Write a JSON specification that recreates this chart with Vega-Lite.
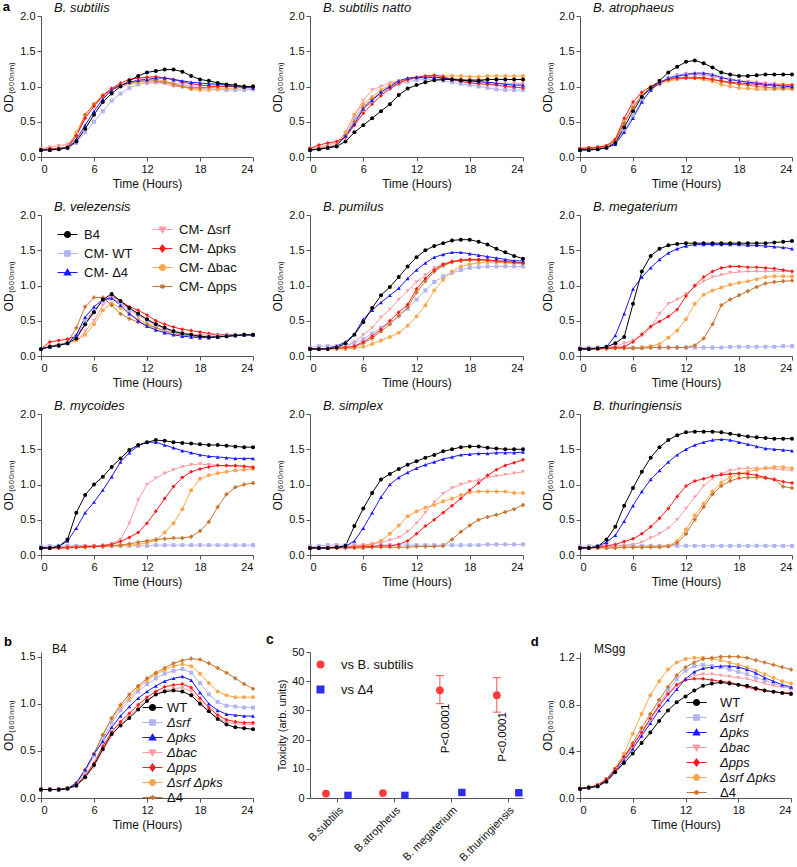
{
"$schema":"https://vega.github.io/schema/vega-lite/v6.json",
"padding":{"left":2,"top":1,"right":0,"bottom":0},
"title":{"text":"a","anchor":"start","frame":"bounds","fontWeight":"bold","fontStyle":"normal","fontSize":13,"dx":0,"offset":-12,"color":"#000000"},
"datasets":{
"g":[
{"p":"sub","t":0,"k0":0.10,"k1":0.10,"k2":0.10,"k3":0.12,"k4":0.10,"k5":0.10,"k6":0.10},
{"p":"sub","t":1,"k0":0.10,"k1":0.11,"k2":0.10,"k3":0.14,"k4":0.12,"k5":0.11,"k6":0.11},
{"p":"sub","t":2,"k0":0.11,"k1":0.12,"k2":0.11,"k3":0.16,"k4":0.12,"k5":0.12,"k6":0.12},
{"p":"sub","t":3,"k0":0.13,"k1":0.13,"k2":0.13,"k3":0.18,"k4":0.14,"k5":0.14,"k6":0.14},
{"p":"sub","t":4,"k0":0.22,"k1":0.20,"k2":0.25,"k3":0.30,"k4":0.30,"k5":0.35,"k6":0.30},
{"p":"sub","t":5,"k0":0.40,"k1":0.35,"k2":0.45,"k3":0.55,"k4":0.55,"k5":0.60,"k6":0.60},
{"p":"sub","t":6,"k0":0.60,"k1":0.50,"k2":0.65,"k3":0.72,"k4":0.72,"k5":0.75,"k6":0.75},
{"p":"sub","t":7,"k0":0.78,"k1":0.65,"k2":0.82,"k3":0.85,"k4":0.87,"k5":0.88,"k6":0.87},
{"p":"sub","t":8,"k0":0.90,"k1":0.80,"k2":0.95,"k3":0.95,"k4":0.97,"k5":0.97,"k6":0.96},
{"p":"sub","t":9,"k0":1.00,"k1":0.90,"k2":1.02,"k3":1.00,"k4":1.05,"k5":1.02,"k6":1.02},
{"p":"sub","t":10,"k0":1.08,"k1":0.98,"k2":1.06,"k3":1.03,"k4":1.10,"k5":1.05,"k6":1.05},
{"p":"sub","t":11,"k0":1.15,"k1":1.03,"k2":1.09,"k3":1.05,"k4":1.12,"k5":1.08,"k6":1.07},
{"p":"sub","t":12,"k0":1.20,"k1":1.05,"k2":1.10,"k3":1.05,"k4":1.13,"k5":1.10,"k6":1.08},
{"p":"sub","t":13,"k0":1.22,"k1":1.06,"k2":1.12,"k3":1.05,"k4":1.14,"k5":1.10,"k6":1.08},
{"p":"sub","t":14,"k0":1.24,"k1":1.06,"k2":1.12,"k3":1.04,"k4":1.12,"k5":1.08,"k6":1.06},
{"p":"sub","t":15,"k0":1.24,"k1":1.05,"k2":1.10,"k3":1.00,"k4":1.10,"k5":1.04,"k6":1.03},
{"p":"sub","t":16,"k0":1.21,"k1":1.03,"k2":1.08,"k3":1.00,"k4":1.06,"k5":1.00,"k6":1.00},
{"p":"sub","t":17,"k0":1.15,"k1":1.00,"k2":1.06,"k3":0.98,"k4":1.04,"k5":0.96,"k6":0.98},
{"p":"sub","t":18,"k0":1.10,"k1":0.98,"k2":1.05,"k3":0.98,"k4":1.02,"k5":0.95,"k6":0.98},
{"p":"sub","t":19,"k0":1.08,"k1":0.97,"k2":1.04,"k3":0.98,"k4":1.01,"k5":0.95,"k6":0.99},
{"p":"sub","t":20,"k0":1.05,"k1":0.96,"k2":1.03,"k3":1.00,"k4":1.00,"k5":0.96,"k6":1.00},
{"p":"sub","t":21,"k0":1.03,"k1":0.95,"k2":1.02,"k3":1.00,"k4":1.00,"k5":0.97,"k6":1.00},
{"p":"sub","t":22,"k0":1.02,"k1":0.95,"k2":1.00,"k3":1.00,"k4":1.00,"k5":0.98,"k6":1.00},
{"p":"sub","t":23,"k0":1.00,"k1":0.95,"k2":0.99,"k3":1.00,"k4":1.00,"k5":0.98,"k6":1.00},
{"p":"sub","t":24,"k0":1.00,"k1":0.96,"k2":0.98,"k3":1.00,"k4":1.00,"k5":0.98,"k6":1.00},
{"p":"nat","t":0,"k0":0.10,"k1":0.10,"k2":0.10,"k3":0.12,"k4":0.12,"k5":0.10,"k6":0.10},
{"p":"nat","t":1,"k0":0.11,"k1":0.11,"k2":0.11,"k3":0.14,"k4":0.17,"k5":0.12,"k6":0.12},
{"p":"nat","t":2,"k0":0.13,"k1":0.13,"k2":0.13,"k3":0.17,"k4":0.20,"k5":0.14,"k6":0.14},
{"p":"nat","t":3,"k0":0.15,"k1":0.16,"k2":0.16,"k3":0.20,"k4":0.22,"k5":0.17,"k6":0.17},
{"p":"nat","t":4,"k0":0.22,"k1":0.30,"k2":0.30,"k3":0.35,"k4":0.28,"k5":0.35,"k6":0.30},
{"p":"nat","t":5,"k0":0.35,"k1":0.55,"k2":0.47,"k3":0.60,"k4":0.45,"k5":0.60,"k6":0.50},
{"p":"nat","t":6,"k0":0.45,"k1":0.72,"k2":0.68,"k3":0.80,"k4":0.62,"k5":0.75,"k6":0.70},
{"p":"nat","t":7,"k0":0.55,"k1":0.82,"k2":0.80,"k3":0.95,"k4":0.75,"k5":0.85,"k6":0.82},
{"p":"nat","t":8,"k0":0.65,"k1":0.90,"k2":0.92,"k3":1.00,"k4":0.87,"k5":0.95,"k6":0.92},
{"p":"nat","t":9,"k0":0.75,"k1":0.97,"k2":1.00,"k3":1.05,"k4":0.97,"k5":1.02,"k6":1.00},
{"p":"nat","t":10,"k0":0.88,"k1":1.03,"k2":1.08,"k3":1.08,"k4":1.05,"k5":1.08,"k6":1.05},
{"p":"nat","t":11,"k0":0.97,"k1":1.07,"k2":1.12,"k3":1.10,"k4":1.10,"k5":1.10,"k6":1.10},
{"p":"nat","t":12,"k0":1.02,"k1":1.09,"k2":1.13,"k3":1.12,"k4":1.13,"k5":1.12,"k6":1.12},
{"p":"nat","t":13,"k0":1.06,"k1":1.10,"k2":1.13,"k3":1.13,"k4":1.15,"k5":1.14,"k6":1.13},
{"p":"nat","t":14,"k0":1.09,"k1":1.10,"k2":1.13,"k3":1.14,"k4":1.16,"k5":1.15,"k6":1.13},
{"p":"nat","t":15,"k0":1.10,"k1":1.08,"k2":1.12,"k3":1.12,"k4":1.14,"k5":1.15,"k6":1.12},
{"p":"nat","t":16,"k0":1.10,"k1":1.06,"k2":1.10,"k3":1.10,"k4":1.10,"k5":1.15,"k6":1.11},
{"p":"nat","t":17,"k0":1.09,"k1":1.04,"k2":1.09,"k3":1.08,"k4":1.07,"k5":1.15,"k6":1.10},
{"p":"nat","t":18,"k0":1.08,"k1":1.02,"k2":1.08,"k3":1.07,"k4":1.05,"k5":1.14,"k6":1.10},
{"p":"nat","t":19,"k0":1.08,"k1":1.00,"k2":1.07,"k3":1.06,"k4":1.04,"k5":1.14,"k6":1.10},
{"p":"nat","t":20,"k0":1.10,"k1":0.98,"k2":1.06,"k3":1.05,"k4":1.03,"k5":1.15,"k6":1.10},
{"p":"nat","t":21,"k0":1.10,"k1":0.96,"k2":1.05,"k3":1.04,"k4":1.02,"k5":1.15,"k6":1.10},
{"p":"nat","t":22,"k0":1.10,"k1":0.95,"k2":1.03,"k3":1.04,"k4":1.00,"k5":1.15,"k6":1.10},
{"p":"nat","t":23,"k0":1.10,"k1":0.95,"k2":1.02,"k3":1.04,"k4":0.99,"k5":1.15,"k6":1.10},
{"p":"nat","t":24,"k0":1.10,"k1":0.95,"k2":1.02,"k3":1.04,"k4":0.98,"k5":1.15,"k6":1.10},
{"p":"atr","t":0,"k0":0.10,"k1":0.10,"k2":0.10,"k3":0.12,"k4":0.12,"k5":0.11,"k6":0.11},
{"p":"atr","t":1,"k0":0.10,"k1":0.11,"k2":0.10,"k3":0.13,"k4":0.13,"k5":0.12,"k6":0.12},
{"p":"atr","t":2,"k0":0.11,"k1":0.12,"k2":0.11,"k3":0.14,"k4":0.14,"k5":0.14,"k6":0.13},
{"p":"atr","t":3,"k0":0.13,"k1":0.14,"k2":0.13,"k3":0.16,"k4":0.16,"k5":0.16,"k6":0.15},
{"p":"atr","t":4,"k0":0.20,"k1":0.20,"k2":0.18,"k3":0.25,"k4":0.25,"k5":0.25,"k6":0.22},
{"p":"atr","t":5,"k0":0.42,"k1":0.38,"k2":0.35,"k3":0.50,"k4":0.55,"k5":0.50,"k6":0.48},
{"p":"atr","t":6,"k0":0.65,"k1":0.58,"k2":0.55,"k3":0.72,"k4":0.78,"k5":0.70,"k6":0.70},
{"p":"atr","t":7,"k0":0.85,"k1":0.80,"k2":0.78,"k3":0.88,"k4":0.92,"k5":0.87,"k6":0.87},
{"p":"atr","t":8,"k0":0.98,"k1":0.95,"k2":0.95,"k3":0.98,"k4":1.00,"k5":0.97,"k6":0.98},
{"p":"atr","t":9,"k0":1.08,"k1":1.05,"k2":1.05,"k3":1.05,"k4":1.06,"k5":1.03,"k6":1.05},
{"p":"atr","t":10,"k0":1.20,"k1":1.12,"k2":1.12,"k3":1.10,"k4":1.10,"k5":1.08,"k6":1.10},
{"p":"atr","t":11,"k0":1.28,"k1":1.16,"k2":1.15,"k3":1.14,"k4":1.12,"k5":1.10,"k6":1.12},
{"p":"atr","t":12,"k0":1.35,"k1":1.18,"k2":1.17,"k3":1.16,"k4":1.12,"k5":1.12,"k6":1.13},
{"p":"atr","t":13,"k0":1.37,"k1":1.18,"k2":1.19,"k3":1.17,"k4":1.12,"k5":1.12,"k6":1.13},
{"p":"atr","t":14,"k0":1.33,"k1":1.17,"k2":1.19,"k3":1.16,"k4":1.12,"k5":1.10,"k6":1.12},
{"p":"atr","t":15,"k0":1.27,"k1":1.15,"k2":1.17,"k3":1.14,"k4":1.10,"k5":1.07,"k6":1.10},
{"p":"atr","t":16,"k0":1.20,"k1":1.12,"k2":1.13,"k3":1.12,"k4":1.08,"k5":1.03,"k6":1.07},
{"p":"atr","t":17,"k0":1.17,"k1":1.10,"k2":1.10,"k3":1.10,"k4":1.06,"k5":1.00,"k6":1.05},
{"p":"atr","t":18,"k0":1.15,"k1":1.08,"k2":1.08,"k3":1.08,"k4":1.05,"k5":0.98,"k6":1.03},
{"p":"atr","t":19,"k0":1.15,"k1":1.06,"k2":1.06,"k3":1.07,"k4":1.04,"k5":0.97,"k6":1.02},
{"p":"atr","t":20,"k0":1.16,"k1":1.04,"k2":1.05,"k3":1.06,"k4":1.03,"k5":0.96,"k6":1.00},
{"p":"atr","t":21,"k0":1.17,"k1":1.03,"k2":1.03,"k3":1.05,"k4":1.02,"k5":0.96,"k6":0.99},
{"p":"atr","t":22,"k0":1.17,"k1":1.02,"k2":1.02,"k3":1.04,"k4":1.02,"k5":0.96,"k6":0.98},
{"p":"atr","t":23,"k0":1.17,"k1":1.01,"k2":1.00,"k3":1.03,"k4":1.02,"k5":0.96,"k6":0.98},
{"p":"atr","t":24,"k0":1.17,"k1":1.00,"k2":1.00,"k3":1.02,"k4":1.02,"k5":0.96,"k6":0.98},
{"p":"vel","t":0,"k0":0.10,"k1":0.10,"k2":0.10,"k3":0.10,"k4":0.10,"k5":0.10,"k6":0.10},
{"p":"vel","t":1,"k0":0.13,"k1":0.13,"k2":0.13,"k3":0.14,"k4":0.20,"k5":0.14,"k6":0.14},
{"p":"vel","t":2,"k0":0.15,"k1":0.15,"k2":0.15,"k3":0.16,"k4":0.22,"k5":0.16,"k6":0.16},
{"p":"vel","t":3,"k0":0.18,"k1":0.18,"k2":0.18,"k3":0.19,"k4":0.24,"k5":0.18,"k6":0.19},
{"p":"vel","t":4,"k0":0.25,"k1":0.28,"k2":0.30,"k3":0.22,"k4":0.28,"k5":0.22,"k6":0.40},
{"p":"vel","t":5,"k0":0.45,"k1":0.50,"k2":0.55,"k3":0.35,"k4":0.45,"k5":0.30,"k6":0.70},
{"p":"vel","t":6,"k0":0.62,"k1":0.65,"k2":0.70,"k3":0.50,"k4":0.65,"k5":0.45,"k6":0.83},
{"p":"vel","t":7,"k0":0.80,"k1":0.78,"k2":0.80,"k3":0.72,"k4":0.78,"k5":0.65,"k6":0.83},
{"p":"vel","t":8,"k0":0.88,"k1":0.82,"k2":0.82,"k3":0.82,"k4":0.85,"k5":0.75,"k6":0.72},
{"p":"vel","t":9,"k0":0.78,"k1":0.75,"k2":0.72,"k3":0.76,"k4":0.78,"k5":0.68,"k6":0.60},
{"p":"vel","t":10,"k0":0.68,"k1":0.65,"k2":0.60,"k3":0.68,"k4":0.70,"k5":0.60,"k6":0.53},
{"p":"vel","t":11,"k0":0.60,"k1":0.58,"k2":0.50,"k3":0.60,"k4":0.65,"k5":0.52,"k6":0.48},
{"p":"vel","t":12,"k0":0.52,"k1":0.50,"k2":0.42,"k3":0.52,"k4":0.58,"k5":0.46,"k6":0.44},
{"p":"vel","t":13,"k0":0.45,"k1":0.44,"k2":0.37,"k3":0.46,"k4":0.50,"k5":0.40,"k6":0.40},
{"p":"vel","t":14,"k0":0.40,"k1":0.38,"k2":0.33,"k3":0.40,"k4":0.45,"k5":0.35,"k6":0.36},
{"p":"vel","t":15,"k0":0.35,"k1":0.34,"k2":0.30,"k3":0.36,"k4":0.41,"k5":0.32,"k6":0.32},
{"p":"vel","t":16,"k0":0.32,"k1":0.31,"k2":0.28,"k3":0.33,"k4":0.38,"k5":0.30,"k6":0.30},
{"p":"vel","t":17,"k0":0.30,"k1":0.29,"k2":0.27,"k3":0.31,"k4":0.36,"k5":0.29,"k6":0.28},
{"p":"vel","t":18,"k0":0.28,"k1":0.28,"k2":0.26,"k3":0.30,"k4":0.34,"k5":0.28,"k6":0.27},
{"p":"vel","t":19,"k0":0.27,"k1":0.28,"k2":0.26,"k3":0.30,"k4":0.32,"k5":0.28,"k6":0.27},
{"p":"vel","t":20,"k0":0.27,"k1":0.28,"k2":0.27,"k3":0.30,"k4":0.30,"k5":0.28,"k6":0.27},
{"p":"vel","t":21,"k0":0.28,"k1":0.29,"k2":0.28,"k3":0.30,"k4":0.30,"k5":0.29,"k6":0.28},
{"p":"vel","t":22,"k0":0.29,"k1":0.30,"k2":0.29,"k3":0.30,"k4":0.30,"k5":0.30,"k6":0.29},
{"p":"vel","t":23,"k0":0.30,"k1":0.30,"k2":0.30,"k3":0.30,"k4":0.30,"k5":0.30,"k6":0.30},
{"p":"vel","t":24,"k0":0.30,"k1":0.30,"k2":0.30,"k3":0.30,"k4":0.30,"k5":0.30,"k6":0.30},
{"p":"pum","t":0,"k0":0.10,"k1":0.12,"k2":0.10,"k3":0.10,"k4":0.10,"k5":0.10,"k6":0.10},
{"p":"pum","t":1,"k0":0.10,"k1":0.14,"k2":0.10,"k3":0.10,"k4":0.10,"k5":0.10,"k6":0.10},
{"p":"pum","t":2,"k0":0.10,"k1":0.14,"k2":0.11,"k3":0.11,"k4":0.10,"k5":0.10,"k6":0.10},
{"p":"pum","t":3,"k0":0.12,"k1":0.14,"k2":0.14,"k3":0.12,"k4":0.11,"k5":0.10,"k6":0.11},
{"p":"pum","t":4,"k0":0.18,"k1":0.15,"k2":0.20,"k3":0.14,"k4":0.12,"k5":0.10,"k6":0.12},
{"p":"pum","t":5,"k0":0.30,"k1":0.18,"k2":0.31,"k3":0.20,"k4":0.14,"k5":0.11,"k6":0.13},
{"p":"pum","t":6,"k0":0.48,"k1":0.24,"k2":0.52,"k3":0.30,"k4":0.20,"k5":0.13,"k6":0.18},
{"p":"pum","t":7,"k0":0.68,"k1":0.32,"k2":0.65,"k3":0.40,"k4":0.28,"k5":0.17,"k6":0.25},
{"p":"pum","t":8,"k0":0.86,"k1":0.40,"k2":0.76,"k3":0.55,"k4":0.38,"k5":0.22,"k6":0.35},
{"p":"pum","t":9,"k0":0.98,"k1":0.47,"k2":0.86,"k3":0.66,"k4":0.50,"k5":0.27,"k6":0.45},
{"p":"pum","t":10,"k0":1.12,"k1":0.57,"k2":0.96,"k3":0.80,"k4":0.62,"k5":0.33,"k6":0.57},
{"p":"pum","t":11,"k0":1.27,"k1":0.67,"k2":1.10,"k3":0.92,"k4":0.73,"k5":0.43,"k6":0.69},
{"p":"pum","t":12,"k0":1.40,"k1":0.80,"k2":1.22,"k3":1.05,"k4":0.95,"k5":0.56,"k6":0.90},
{"p":"pum","t":13,"k0":1.50,"k1":0.93,"k2":1.32,"k3":1.15,"k4":1.10,"k5":0.72,"k6":1.06},
{"p":"pum","t":14,"k0":1.56,"k1":1.05,"k2":1.40,"k3":1.25,"k4":1.22,"k5":0.93,"k6":1.20},
{"p":"pum","t":15,"k0":1.60,"k1":1.13,"k2":1.44,"k3":1.30,"k4":1.30,"k5":1.08,"k6":1.28},
{"p":"pum","t":16,"k0":1.64,"k1":1.18,"k2":1.47,"k3":1.34,"k4":1.34,"k5":1.20,"k6":1.33},
{"p":"pum","t":17,"k0":1.65,"k1":1.22,"k2":1.47,"k3":1.36,"k4":1.36,"k5":1.27,"k6":1.35},
{"p":"pum","t":18,"k0":1.65,"k1":1.25,"k2":1.45,"k3":1.37,"k4":1.37,"k5":1.30,"k6":1.36},
{"p":"pum","t":19,"k0":1.62,"k1":1.26,"k2":1.43,"k3":1.36,"k4":1.37,"k5":1.32,"k6":1.36},
{"p":"pum","t":20,"k0":1.58,"k1":1.27,"k2":1.41,"k3":1.35,"k4":1.36,"k5":1.33,"k6":1.36},
{"p":"pum","t":21,"k0":1.52,"k1":1.27,"k2":1.39,"k3":1.34,"k4":1.35,"k5":1.33,"k6":1.35},
{"p":"pum","t":22,"k0":1.47,"k1":1.27,"k2":1.37,"k3":1.33,"k4":1.34,"k5":1.32,"k6":1.34},
{"p":"pum","t":23,"k0":1.42,"k1":1.27,"k2":1.35,"k3":1.32,"k4":1.33,"k5":1.32,"k6":1.33},
{"p":"pum","t":24,"k0":1.38,"k1":1.27,"k2":1.35,"k3":1.30,"k4":1.32,"k5":1.32,"k6":1.32},
{"p":"meg","t":0,"k0":0.10,"k1":0.12,"k2":0.10,"k3":0.10,"k4":0.10,"k5":0.10,"k6":0.10},
{"p":"meg","t":1,"k0":0.10,"k1":0.12,"k2":0.10,"k3":0.10,"k4":0.10,"k5":0.10,"k6":0.10},
{"p":"meg","t":2,"k0":0.11,"k1":0.12,"k2":0.11,"k3":0.11,"k4":0.10,"k5":0.10,"k6":0.10},
{"p":"meg","t":3,"k0":0.13,"k1":0.12,"k2":0.13,"k3":0.12,"k4":0.11,"k5":0.10,"k6":0.11},
{"p":"meg","t":4,"k0":0.18,"k1":0.12,"k2":0.29,"k3":0.14,"k4":0.12,"k5":0.11,"k6":0.11},
{"p":"meg","t":5,"k0":0.27,"k1":0.12,"k2":0.60,"k3":0.18,"k4":0.13,"k5":0.11,"k6":0.11},
{"p":"meg","t":6,"k0":0.74,"k1":0.12,"k2":0.95,"k3":0.22,"k4":0.20,"k5":0.11,"k6":0.11},
{"p":"meg","t":7,"k0":1.20,"k1":0.12,"k2":1.12,"k3":0.28,"k4":0.31,"k5":0.12,"k6":0.11},
{"p":"meg","t":8,"k0":1.42,"k1":0.12,"k2":1.25,"k3":0.40,"k4":0.42,"k5":0.14,"k6":0.12},
{"p":"meg","t":9,"k0":1.52,"k1":0.12,"k2":1.37,"k3":0.60,"k4":0.49,"k5":0.17,"k6":0.12},
{"p":"meg","t":10,"k0":1.57,"k1":0.12,"k2":1.46,"k3":0.74,"k4":0.56,"k5":0.26,"k6":0.12},
{"p":"meg","t":11,"k0":1.59,"k1":0.12,"k2":1.52,"k3":0.80,"k4":0.66,"k5":0.36,"k6":0.12},
{"p":"meg","t":12,"k0":1.60,"k1":0.12,"k2":1.56,"k3":0.88,"k4":0.85,"k5":0.52,"k6":0.12},
{"p":"meg","t":13,"k0":1.60,"k1":0.12,"k2":1.58,"k3":0.98,"k4":1.00,"k5":0.74,"k6":0.15},
{"p":"meg","t":14,"k0":1.60,"k1":0.12,"k2":1.58,"k3":1.06,"k4":1.12,"k5":0.87,"k6":0.25},
{"p":"meg","t":15,"k0":1.60,"k1":0.12,"k2":1.58,"k3":1.12,"k4":1.20,"k5":0.93,"k6":0.45},
{"p":"meg","t":16,"k0":1.60,"k1":0.12,"k2":1.58,"k3":1.15,"k4":1.25,"k5":0.97,"k6":0.72},
{"p":"meg","t":17,"k0":1.60,"k1":0.13,"k2":1.58,"k3":1.18,"k4":1.27,"k5":1.01,"k6":0.80},
{"p":"meg","t":18,"k0":1.60,"k1":0.13,"k2":1.58,"k3":1.19,"k4":1.27,"k5":1.04,"k6":0.86},
{"p":"meg","t":19,"k0":1.60,"k1":0.13,"k2":1.57,"k3":1.20,"k4":1.26,"k5":1.06,"k6":0.92},
{"p":"meg","t":20,"k0":1.60,"k1":0.13,"k2":1.57,"k3":1.20,"k4":1.26,"k5":1.09,"k6":0.98},
{"p":"meg","t":21,"k0":1.60,"k1":0.13,"k2":1.56,"k3":1.20,"k4":1.25,"k5":1.12,"k6":1.03},
{"p":"meg","t":22,"k0":1.61,"k1":0.13,"k2":1.55,"k3":1.20,"k4":1.24,"k5":1.13,"k6":1.05},
{"p":"meg","t":23,"k0":1.62,"k1":0.14,"k2":1.54,"k3":1.20,"k4":1.22,"k5":1.13,"k6":1.06},
{"p":"meg","t":24,"k0":1.63,"k1":0.14,"k2":1.52,"k3":1.20,"k4":1.20,"k5":1.13,"k6":1.07},
{"p":"myc","t":0,"k0":0.10,"k1":0.12,"k2":0.10,"k3":0.10,"k4":0.10,"k5":0.10,"k6":0.10},
{"p":"myc","t":1,"k0":0.10,"k1":0.13,"k2":0.10,"k3":0.10,"k4":0.10,"k5":0.10,"k6":0.10},
{"p":"myc","t":2,"k0":0.12,"k1":0.13,"k2":0.12,"k3":0.11,"k4":0.10,"k5":0.10,"k6":0.10},
{"p":"myc","t":3,"k0":0.22,"k1":0.13,"k2":0.20,"k3":0.12,"k4":0.11,"k5":0.10,"k6":0.10},
{"p":"myc","t":4,"k0":0.60,"k1":0.13,"k2":0.38,"k3":0.12,"k4":0.11,"k5":0.11,"k6":0.11},
{"p":"myc","t":5,"k0":0.85,"k1":0.13,"k2":0.60,"k3":0.13,"k4":0.12,"k5":0.11,"k6":0.11},
{"p":"myc","t":6,"k0":1.00,"k1":0.13,"k2":0.75,"k3":0.13,"k4":0.12,"k5":0.12,"k6":0.12},
{"p":"myc","t":7,"k0":1.11,"k1":0.13,"k2":0.92,"k3":0.14,"k4":0.13,"k5":0.12,"k6":0.12},
{"p":"myc","t":8,"k0":1.25,"k1":0.13,"k2":1.11,"k3":0.16,"k4":0.15,"k5":0.13,"k6":0.13},
{"p":"myc","t":9,"k0":1.37,"k1":0.13,"k2":1.32,"k3":0.22,"k4":0.19,"k5":0.13,"k6":0.14},
{"p":"myc","t":10,"k0":1.49,"k1":0.13,"k2":1.45,"k3":0.45,"k4":0.25,"k5":0.14,"k6":0.16},
{"p":"myc","t":11,"k0":1.56,"k1":0.13,"k2":1.55,"k3":0.78,"k4":0.32,"k5":0.15,"k6":0.18},
{"p":"myc","t":12,"k0":1.60,"k1":0.13,"k2":1.60,"k3":1.00,"k4":0.45,"k5":0.17,"k6":0.20},
{"p":"myc","t":13,"k0":1.63,"k1":0.14,"k2":1.60,"k3":1.09,"k4":0.62,"k5":0.21,"k6":0.22},
{"p":"myc","t":14,"k0":1.62,"k1":0.14,"k2":1.56,"k3":1.16,"k4":0.80,"k5":0.32,"k6":0.23},
{"p":"myc","t":15,"k0":1.60,"k1":0.14,"k2":1.52,"k3":1.21,"k4":0.97,"k5":0.45,"k6":0.24},
{"p":"myc","t":16,"k0":1.59,"k1":0.14,"k2":1.48,"k3":1.25,"k4":1.10,"k5":0.65,"k6":0.24},
{"p":"myc","t":17,"k0":1.58,"k1":0.14,"k2":1.45,"k3":1.28,"k4":1.18,"k5":0.92,"k6":0.26},
{"p":"myc","t":18,"k0":1.57,"k1":0.14,"k2":1.42,"k3":1.29,"k4":1.22,"k5":1.08,"k6":0.34},
{"p":"myc","t":19,"k0":1.56,"k1":0.14,"k2":1.40,"k3":1.28,"k4":1.25,"k5":1.13,"k6":0.47},
{"p":"myc","t":20,"k0":1.56,"k1":0.14,"k2":1.39,"k3":1.27,"k4":1.27,"k5":1.16,"k6":0.68},
{"p":"myc","t":21,"k0":1.55,"k1":0.14,"k2":1.38,"k3":1.26,"k4":1.27,"k5":1.18,"k6":0.86},
{"p":"myc","t":22,"k0":1.54,"k1":0.14,"k2":1.37,"k3":1.25,"k4":1.27,"k5":1.20,"k6":0.96},
{"p":"myc","t":23,"k0":1.53,"k1":0.14,"k2":1.37,"k3":1.25,"k4":1.26,"k5":1.21,"k6":1.00},
{"p":"myc","t":24,"k0":1.53,"k1":0.14,"k2":1.37,"k3":1.25,"k4":1.24,"k5":1.22,"k6":1.02},
{"p":"sim","t":0,"k0":0.10,"k1":0.12,"k2":0.10,"k3":0.10,"k4":0.10,"k5":0.10,"k6":0.10},
{"p":"sim","t":1,"k0":0.10,"k1":0.13,"k2":0.10,"k3":0.10,"k4":0.10,"k5":0.10,"k6":0.10},
{"p":"sim","t":2,"k0":0.10,"k1":0.14,"k2":0.10,"k3":0.11,"k4":0.10,"k5":0.10,"k6":0.10},
{"p":"sim","t":3,"k0":0.11,"k1":0.14,"k2":0.11,"k3":0.12,"k4":0.10,"k5":0.11,"k6":0.10},
{"p":"sim","t":4,"k0":0.13,"k1":0.14,"k2":0.12,"k3":0.12,"k4":0.11,"k5":0.11,"k6":0.10},
{"p":"sim","t":5,"k0":0.41,"k1":0.14,"k2":0.20,"k3":0.13,"k4":0.11,"k5":0.12,"k6":0.10},
{"p":"sim","t":6,"k0":0.66,"k1":0.14,"k2":0.38,"k3":0.14,"k4":0.12,"k5":0.13,"k6":0.10},
{"p":"sim","t":7,"k0":0.88,"k1":0.14,"k2":0.60,"k3":0.16,"k4":0.12,"k5":0.15,"k6":0.11},
{"p":"sim","t":8,"k0":1.07,"k1":0.14,"k2":0.82,"k3":0.18,"k4":0.13,"k5":0.20,"k6":0.11},
{"p":"sim","t":9,"k0":1.15,"k1":0.14,"k2":1.00,"k3":0.21,"k4":0.13,"k5":0.30,"k6":0.11},
{"p":"sim","t":10,"k0":1.22,"k1":0.14,"k2":1.10,"k3":0.25,"k4":0.15,"k5":0.42,"k6":0.11},
{"p":"sim","t":11,"k0":1.28,"k1":0.14,"k2":1.17,"k3":0.33,"k4":0.20,"k5":0.55,"k6":0.11},
{"p":"sim","t":12,"k0":1.33,"k1":0.14,"k2":1.23,"k3":0.45,"k4":0.30,"k5":0.62,"k6":0.12},
{"p":"sim","t":13,"k0":1.38,"k1":0.14,"k2":1.28,"k3":0.60,"k4":0.41,"k5":0.67,"k6":0.12},
{"p":"sim","t":14,"k0":1.42,"k1":0.14,"k2":1.32,"k3":0.75,"k4":0.50,"k5":0.71,"k6":0.12},
{"p":"sim","t":15,"k0":1.47,"k1":0.14,"k2":1.36,"k3":0.87,"k4":0.60,"k5":0.76,"k6":0.13},
{"p":"sim","t":16,"k0":1.50,"k1":0.14,"k2":1.39,"k3":0.95,"k4":0.70,"k5":0.80,"k6":0.22},
{"p":"sim","t":17,"k0":1.53,"k1":0.14,"k2":1.42,"k3":1.00,"k4":0.80,"k5":0.85,"k6":0.33},
{"p":"sim","t":18,"k0":1.54,"k1":0.14,"k2":1.43,"k3":1.04,"k4":0.92,"k5":0.89,"k6":0.42},
{"p":"sim","t":19,"k0":1.54,"k1":0.14,"k2":1.44,"k3":1.06,"k4":1.02,"k5":0.90,"k6":0.50},
{"p":"sim","t":20,"k0":1.52,"k1":0.15,"k2":1.44,"k3":1.10,"k4":1.13,"k5":0.90,"k6":0.54},
{"p":"sim","t":21,"k0":1.51,"k1":0.15,"k2":1.45,"k3":1.12,"k4":1.21,"k5":0.90,"k6":0.57},
{"p":"sim","t":22,"k0":1.50,"k1":0.15,"k2":1.45,"k3":1.14,"k4":1.27,"k5":0.90,"k6":0.61},
{"p":"sim","t":23,"k0":1.50,"k1":0.15,"k2":1.45,"k3":1.16,"k4":1.31,"k5":0.88,"k6":0.65},
{"p":"sim","t":24,"k0":1.50,"k1":0.15,"k2":1.46,"k3":1.18,"k4":1.35,"k5":0.88,"k6":0.71},
{"p":"thu","t":0,"k0":0.10,"k1":0.12,"k2":0.10,"k3":0.10,"k4":0.10,"k5":0.10,"k6":0.10},
{"p":"thu","t":1,"k0":0.10,"k1":0.13,"k2":0.10,"k3":0.10,"k4":0.10,"k5":0.10,"k6":0.10},
{"p":"thu","t":2,"k0":0.12,"k1":0.13,"k2":0.12,"k3":0.11,"k4":0.11,"k5":0.10,"k6":0.10},
{"p":"thu","t":3,"k0":0.22,"k1":0.13,"k2":0.18,"k3":0.12,"k4":0.13,"k5":0.10,"k6":0.10},
{"p":"thu","t":4,"k0":0.40,"k1":0.13,"k2":0.28,"k3":0.13,"k4":0.15,"k5":0.11,"k6":0.10},
{"p":"thu","t":5,"k0":0.70,"k1":0.13,"k2":0.48,"k3":0.14,"k4":0.19,"k5":0.11,"k6":0.11},
{"p":"thu","t":6,"k0":0.95,"k1":0.13,"k2":0.70,"k3":0.15,"k4":0.23,"k5":0.11,"k6":0.11},
{"p":"thu","t":7,"k0":1.18,"k1":0.13,"k2":0.90,"k3":0.18,"k4":0.30,"k5":0.11,"k6":0.11},
{"p":"thu","t":8,"k0":1.38,"k1":0.13,"k2":1.07,"k3":0.24,"k4":0.40,"k5":0.12,"k6":0.11},
{"p":"thu","t":9,"k0":1.53,"k1":0.13,"k2":1.20,"k3":0.30,"k4":0.52,"k5":0.12,"k6":0.11},
{"p":"thu","t":10,"k0":1.63,"k1":0.13,"k2":1.32,"k3":0.38,"k4":0.66,"k5":0.13,"k6":0.12},
{"p":"thu","t":11,"k0":1.70,"k1":0.13,"k2":1.42,"k3":0.50,"k4":0.83,"k5":0.20,"k6":0.17},
{"p":"thu","t":12,"k0":1.74,"k1":0.13,"k2":1.50,"k3":0.66,"k4":0.98,"k5":0.36,"k6":0.30},
{"p":"thu","t":13,"k0":1.75,"k1":0.13,"k2":1.56,"k3":0.82,"k4":1.05,"k5":0.56,"k6":0.50},
{"p":"thu","t":14,"k0":1.75,"k1":0.13,"k2":1.60,"k3":0.98,"k4":1.08,"k5":0.73,"k6":0.68},
{"p":"thu","t":15,"k0":1.75,"k1":0.13,"k2":1.63,"k3":1.08,"k4":1.12,"k5":0.90,"k6":0.86},
{"p":"thu","t":16,"k0":1.74,"k1":0.13,"k2":1.64,"k3":1.15,"k4":1.14,"k5":1.03,"k6":0.98},
{"p":"thu","t":17,"k0":1.72,"k1":0.13,"k2":1.63,"k3":1.20,"k4":1.15,"k5":1.10,"k6":1.05},
{"p":"thu","t":18,"k0":1.70,"k1":0.13,"k2":1.60,"k3":1.22,"k4":1.16,"k5":1.15,"k6":1.09},
{"p":"thu","t":19,"k0":1.68,"k1":0.13,"k2":1.57,"k3":1.23,"k4":1.15,"k5":1.18,"k6":1.10},
{"p":"thu","t":20,"k0":1.67,"k1":0.13,"k2":1.54,"k3":1.23,"k4":1.13,"k5":1.21,"k6":1.10},
{"p":"thu","t":21,"k0":1.66,"k1":0.13,"k2":1.51,"k3":1.23,"k4":1.10,"k5":1.23,"k6":1.09},
{"p":"thu","t":22,"k0":1.65,"k1":0.13,"k2":1.50,"k3":1.22,"k4":1.07,"k5":1.25,"k6":1.07},
{"p":"thu","t":23,"k0":1.65,"k1":0.13,"k2":1.49,"k3":1.21,"k4":1.04,"k5":1.25,"k6":0.97},
{"p":"thu","t":24,"k0":1.65,"k1":0.13,"k2":1.48,"k3":1.20,"k4":1.02,"k5":1.23,"k6":0.95},
{"p":"b4","t":0,"k0":0.09,"k1":0.09,"k2":0.09,"k3":0.09,"k4":0.09,"k5":0.09,"k6":0.09},
{"p":"b4","t":1,"k0":0.09,"k1":0.09,"k2":0.09,"k3":0.09,"k4":0.09,"k5":0.09,"k6":0.09},
{"p":"b4","t":2,"k0":0.09,"k1":0.09,"k2":0.09,"k3":0.09,"k4":0.09,"k5":0.09,"k6":0.09},
{"p":"b4","t":3,"k0":0.10,"k1":0.10,"k2":0.10,"k3":0.10,"k4":0.10,"k5":0.10,"k6":0.10},
{"p":"b4","t":4,"k0":0.13,"k1":0.15,"k2":0.16,"k3":0.13,"k4":0.14,"k5":0.16,"k6":0.16},
{"p":"b4","t":5,"k0":0.22,"k1":0.28,"k2":0.30,"k3":0.22,"k4":0.24,"k5":0.30,"k6":0.30},
{"p":"b4","t":6,"k0":0.35,"k1":0.45,"k2":0.47,"k3":0.33,"k4":0.37,"k5":0.47,"k6":0.47},
{"p":"b4","t":7,"k0":0.52,"k1":0.62,"k2":0.60,"k3":0.50,"k4":0.55,"k5":0.67,"k6":0.67},
{"p":"b4","t":8,"k0":0.68,"k1":0.80,"k2":0.75,"k3":0.66,"k4":0.70,"k5":0.84,"k6":0.85},
{"p":"b4","t":9,"k0":0.77,"k1":0.93,"k2":0.87,"k3":0.78,"k4":0.81,"k5":0.97,"k6":0.99},
{"p":"b4","t":10,"k0":0.85,"k1":1.04,"k2":0.97,"k3":0.87,"k4":0.90,"k5":1.06,"k6":1.10},
{"p":"b4","t":11,"k0":0.94,"k1":1.13,"k2":1.06,"k3":0.96,"k4":0.99,"k5":1.16,"k6":1.19},
{"p":"b4","t":12,"k0":1.03,"k1":1.21,"k2":1.13,"k3":1.04,"k4":1.07,"k5":1.25,"k6":1.27},
{"p":"b4","t":13,"k0":1.10,"k1":1.27,"k2":1.19,"k3":1.10,"k4":1.13,"k5":1.31,"k6":1.33},
{"p":"b4","t":14,"k0":1.13,"k1":1.32,"k2":1.24,"k3":1.14,"k4":1.18,"k5":1.36,"k6":1.38},
{"p":"b4","t":15,"k0":1.14,"k1":1.35,"k2":1.27,"k3":1.16,"k4":1.20,"k5":1.40,"k6":1.43},
{"p":"b4","t":16,"k0":1.13,"k1":1.37,"k2":1.29,"k3":1.17,"k4":1.21,"k5":1.42,"k6":1.46},
{"p":"b4","t":17,"k0":1.09,"k1":1.33,"k2":1.25,"k3":1.13,"k4":1.17,"k5":1.40,"k6":1.48},
{"p":"b4","t":18,"k0":1.00,"k1":1.22,"k2":1.12,"k3":1.02,"k4":1.06,"k5":1.32,"k6":1.47},
{"p":"b4","t":19,"k0":0.92,"k1":1.10,"k2":1.00,"k3":0.92,"k4":0.96,"k5":1.22,"k6":1.43},
{"p":"b4","t":20,"k0":0.84,"k1":1.02,"k2":0.93,"k3":0.85,"k4":0.88,"k5":1.13,"k6":1.38},
{"p":"b4","t":21,"k0":0.78,"k1":0.98,"k2":0.89,"k3":0.80,"k4":0.83,"k5":1.09,"k6":1.33},
{"p":"b4","t":22,"k0":0.75,"k1":0.97,"k2":0.88,"k3":0.79,"k4":0.81,"k5":1.07,"k6":1.27},
{"p":"b4","t":23,"k0":0.74,"k1":0.96,"k2":0.87,"k3":0.78,"k4":0.80,"k5":1.07,"k6":1.21},
{"p":"b4","t":24,"k0":0.73,"k1":0.96,"k2":0.87,"k3":0.78,"k4":0.80,"k5":1.07,"k6":1.16},
{"p":"msg","t":0,"k0":0.08,"k1":0.08,"k2":0.08,"k3":0.08,"k4":0.08,"k5":0.08,"k6":0.08},
{"p":"msg","t":1,"k0":0.09,"k1":0.09,"k2":0.09,"k3":0.09,"k4":0.09,"k5":0.09,"k6":0.09},
{"p":"msg","t":2,"k0":0.10,"k1":0.10,"k2":0.10,"k3":0.11,"k4":0.11,"k5":0.11,"k6":0.11},
{"p":"msg","t":3,"k0":0.14,"k1":0.15,"k2":0.15,"k3":0.16,"k4":0.16,"k5":0.16,"k6":0.16},
{"p":"msg","t":4,"k0":0.22,"k1":0.25,"k2":0.23,"k3":0.25,"k4":0.25,"k5":0.25,"k6":0.24},
{"p":"msg","t":5,"k0":0.30,"k1":0.35,"k2":0.32,"k3":0.34,"k4":0.35,"k5":0.38,"k6":0.35},
{"p":"msg","t":6,"k0":0.38,"k1":0.45,"k2":0.42,"k3":0.44,"k4":0.45,"k5":0.55,"k6":0.47},
{"p":"msg","t":7,"k0":0.47,"k1":0.56,"k2":0.53,"k3":0.55,"k4":0.56,"k5":0.72,"k6":0.60},
{"p":"msg","t":8,"k0":0.56,"k1":0.68,"k2":0.64,"k3":0.67,"k4":0.68,"k5":0.88,"k6":0.72},
{"p":"msg","t":9,"k0":0.66,"k1":0.80,"k2":0.75,"k3":0.78,"k4":0.79,"k5":1.00,"k6":0.84},
{"p":"msg","t":10,"k0":0.75,"k1":0.92,"k2":0.84,"k3":0.88,"k4":0.89,"k5":1.10,"k6":0.95},
{"p":"msg","t":11,"k0":0.82,"k1":1.02,"k2":0.93,"k3":0.96,"k4":0.97,"k5":1.16,"k6":1.05},
{"p":"msg","t":12,"k0":0.87,"k1":1.09,"k2":1.02,"k3":1.02,"k4":1.01,"k5":1.19,"k6":1.12},
{"p":"msg","t":13,"k0":0.92,"k1":1.13,"k2":1.08,"k3":1.05,"k4":1.02,"k5":1.20,"k6":1.16},
{"p":"msg","t":14,"k0":0.96,"k1":1.14,"k2":1.11,"k3":1.06,"k4":1.02,"k5":1.20,"k6":1.19},
{"p":"msg","t":15,"k0":0.98,"k1":1.13,"k2":1.12,"k3":1.06,"k4":1.01,"k5":1.19,"k6":1.20},
{"p":"msg","t":16,"k0":0.99,"k1":1.12,"k2":1.13,"k3":1.05,"k4":1.00,"k5":1.18,"k6":1.21},
{"p":"msg","t":17,"k0":0.98,"k1":1.10,"k2":1.13,"k3":1.04,"k4":0.99,"k5":1.16,"k6":1.21},
{"p":"msg","t":18,"k0":0.97,"k1":1.08,"k2":1.12,"k3":1.03,"k4":0.97,"k5":1.14,"k6":1.21},
{"p":"msg","t":19,"k0":0.96,"k1":1.06,"k2":1.10,"k3":1.02,"k4":0.95,"k5":1.12,"k6":1.20},
{"p":"msg","t":20,"k0":0.94,"k1":1.03,"k2":1.07,"k3":1.00,"k4":0.93,"k5":1.09,"k6":1.18},
{"p":"msg","t":21,"k0":0.92,"k1":1.01,"k2":1.03,"k3":0.98,"k4":0.92,"k5":1.06,"k6":1.16},
{"p":"msg","t":22,"k0":0.91,"k1":0.98,"k2":1.00,"k3":0.96,"k4":0.91,"k5":1.03,"k6":1.14},
{"p":"msg","t":23,"k0":0.90,"k1":0.96,"k2":0.97,"k3":0.95,"k4":0.90,"k5":1.00,"k6":1.12},
{"p":"msg","t":24,"k0":0.89,"k1":0.94,"k2":0.95,"k3":0.94,"k4":0.90,"k5":0.98,"k6":1.10}
],
"tox":[
{"c":"B.subtilis","g":"vs B. subtilis","v":1.5},
{"c":"B.subtilis","g":"vs Δ4","v":0.9},
{"c":"B.atropheus","g":"vs B. subtilis","v":1.7},
{"c":"B.atropheus","g":"vs Δ4","v":0.9},
{"c":"B. megaterium","g":"vs B. subtilis","v":36.9,"lo":32.3,"hi":41.9},
{"c":"B. megaterium","g":"vs Δ4","v":1.9},
{"c":"B.thuringiensis","g":"vs B. subtilis","v":35.2,"lo":29.4,"hi":41.2},
{"c":"B.thuringiensis","g":"vs Δ4","v":1.8}
]
},
"data":{"name":"g"},
"spacing":45,
"resolve":{"scale":{"color":"independent","shape":"independent","stroke":"independent"}},
"vconcat":[
{"spacing":12,"resolve":{"scale":{"color":"independent","shape":"independent","stroke":"independent"}},
"vconcat":[
{"hconcat":[
{"width":212,"height":141,"title":"B. subtilis",
"encoding":{"x":{"field":"t","type":"quantitative","scale":{"domain":[0,24],"nice":false},"axis":{"values":[0,6,12,18,24],"title":"Time (Hours)"}},"y":{"field":"y","type":"quantitative","scale":{"domain":[0,2],"nice":false},"axis":{"values":[0,0.5,1,1.5,2],"format":".1f","title":"OD₍₆₀₀ₙₘ₎"}},"color":{"field":"s","type":"nominal","scale":{"domain":["k0","k1","k2","k3","k4","k5","k6"],"range":["#000000","#b3b3f2","#1a1aff","#ff9aa2","#ff1a1a","#ffa64d","#c8742e"]},"legend":null}},
"layer":[
{"transform":[{"filter":"datum.p=='sub'"},{"fold":["k1","k3","k5","k6","k4","k2","k0"],"as":["s","y"]}],"mark":"line"},
{"transform":[{"filter":"datum.p=='sub'"},{"fold":["k1","k3","k5","k6","k4","k2","k0"],"as":["s","y"]}],"mark":"point","encoding":{"shape":{"field":"s","type":"nominal","scale":{"domain":["k0","k1","k2","k3","k4","k5","k6"],"range":["circle","square","triangle-up","triangle-down","diamond","circle","cross"]},"legend":null}}}
]},
{"width":213,"height":141,"title":"B. subtilis natto",
"encoding":{"x":{"field":"t","type":"quantitative","scale":{"domain":[0,24],"nice":false},"axis":{"values":[0,6,12,18,24],"title":"Time (Hours)"}},"y":{"field":"y","type":"quantitative","scale":{"domain":[0,2],"nice":false},"axis":{"values":[0,0.5,1,1.5,2],"format":".1f","title":"OD₍₆₀₀ₙₘ₎"}},"color":{"field":"s","type":"nominal","scale":{"domain":["k0","k1","k2","k3","k4","k5","k6"],"range":["#000000","#b3b3f2","#1a1aff","#ff9aa2","#ff1a1a","#ffa64d","#c8742e"]},"legend":null}},
"layer":[
{"transform":[{"filter":"datum.p=='nat'"},{"fold":["k1","k3","k5","k6","k4","k2","k0"],"as":["s","y"]}],"mark":"line"},
{"transform":[{"filter":"datum.p=='nat'"},{"fold":["k1","k3","k5","k6","k4","k2","k0"],"as":["s","y"]}],"mark":"point","encoding":{"shape":{"field":"s","type":"nominal","scale":{"domain":["k0","k1","k2","k3","k4","k5","k6"],"range":["circle","square","triangle-up","triangle-down","diamond","circle","cross"]},"legend":null}}}
]},
{"width":212,"height":141,"title":"B. atrophaeus",
"encoding":{"x":{"field":"t","type":"quantitative","scale":{"domain":[0,24],"nice":false},"axis":{"values":[0,6,12,18,24],"title":"Time (Hours)"}},"y":{"field":"y","type":"quantitative","scale":{"domain":[0,2],"nice":false},"axis":{"values":[0,0.5,1,1.5,2],"format":".1f","title":"OD₍₆₀₀ₙₘ₎"}},"color":{"field":"s","type":"nominal","scale":{"domain":["k0","k1","k2","k3","k4","k5","k6"],"range":["#000000","#b3b3f2","#1a1aff","#ff9aa2","#ff1a1a","#ffa64d","#c8742e"]},"legend":null}},
"layer":[
{"transform":[{"filter":"datum.p=='atr'"},{"fold":["k1","k3","k5","k6","k4","k2","k0"],"as":["s","y"]}],"mark":"line"},
{"transform":[{"filter":"datum.p=='atr'"},{"fold":["k1","k3","k5","k6","k4","k2","k0"],"as":["s","y"]}],"mark":"point","encoding":{"shape":{"field":"s","type":"nominal","scale":{"domain":["k0","k1","k2","k3","k4","k5","k6"],"range":["circle","square","triangle-up","triangle-down","diamond","circle","cross"]},"legend":null}}}
]}
],"spacing":57,"bounds":"flush","resolve":{"scale":{"color":"independent","shape":"independent","stroke":"independent"}}},
{"hconcat":[
{"width":212,"height":141,"title":"B. velezensis",
"encoding":{"x":{"field":"t","type":"quantitative","scale":{"domain":[0,24],"nice":false},"axis":{"values":[0,6,12,18,24],"title":"Time (Hours)"}},"y":{"field":"y","type":"quantitative","scale":{"domain":[0,2],"nice":false},"axis":{"values":[0,0.5,1,1.5,2],"format":".1f","title":"OD₍₆₀₀ₙₘ₎"}}},
"layer":[
{"transform":[{"filter":"datum.p=='vel'"},{"fold":["k3","k5","k6","k4"],"as":["s","y"]}],"mark":"line","encoding":{"color":{"field":"s","type":"nominal","scale":{"domain":["k3","k4","k5","k6"],"range":["#ff9aa2","#ff1a1a","#ffa64d","#c8742e"]},"legend":null}}},
{"transform":[{"filter":"datum.p=='vel'"},{"fold":["k3","k5","k6","k4"],"as":["s","y"]}],"mark":"point","encoding":{"color":{"field":"s","type":"nominal","scale":{"domain":["k3","k4","k5","k6"],"range":["#ff9aa2","#ff1a1a","#ffa64d","#c8742e"]},"legend":null},"shape":{"field":"s","type":"nominal","scale":{"domain":["k3","k4","k5","k6"],"range":["triangle-down","diamond","circle","cross"]},"legend":null}}},
{"transform":[{"filter":"datum.p=='vel' && datum.t==0"},{"fold":["k3","k5","k6","k4"],"as":["s","y"]}],"mark":{"type":"point","filled":true,"size":0},"encoding":{
"color":{"field":"s","type":"nominal","scale":{"domain":["k3","k4","k5","k6"],"range":["#ff9aa2","#ff1a1a","#ffa64d","#c8742e"]},"legend":{"orient":"none","legendX":115,"legendY":8,"title":null,"padding":0,"labelFontSize":13,"labelOffset":10,"symbolSize":100,"symbolStrokeWidth":1.2,"rowPadding":5,"labelExpr":"{'k3':'CM- Δsrf','k4':'CM- Δpks','k5':'CM- Δbac','k6':'CM- Δpps'}[datum.value]"}},
"stroke":{"field":"s","type":"nominal","scale":{"domain":["k3","k4","k5","k6"],"range":["#ff9aa2","#ff1a1a","#ffa64d","#c8742e"]},"legend":{"orient":"none","legendX":115,"legendY":8,"title":null,"padding":0,"labelFontSize":13,"labelOffset":10,"symbolSize":100,"symbolStrokeWidth":1.2,"rowPadding":5,"labelExpr":"{'k3':'CM- Δsrf','k4':'CM- Δpks','k5':'CM- Δbac','k6':'CM- Δpps'}[datum.value]"}},
"shape":{"field":"s","type":"nominal","scale":{"domain":["k3","k4","k5","k6"],"range":["M-2,0H2M0,0.65L0.65,-0.5H-0.65Z","M-2,0H2M0,-0.7L0.55,0L0,0.7L-0.55,0Z","M-2,0H2M-0.6,0A0.6,0.6 0 1,0 0.6,0A0.6,0.6 0 1,0 -0.6,0","M-2,0H2M0,-0.5V0.5M-0.45,-0.3L0.45,0.3M-0.45,0.3L0.45,-0.3"]},"legend":{"orient":"none","legendX":115,"legendY":8,"title":null,"padding":0,"labelFontSize":13,"labelOffset":10,"symbolSize":100,"symbolStrokeWidth":1.2,"rowPadding":5,"labelExpr":"{'k3':'CM- Δsrf','k4':'CM- Δpks','k5':'CM- Δbac','k6':'CM- Δpps'}[datum.value]"}}}},
{"transform":[{"filter":"datum.p=='vel'"},{"fold":["k1","k2","k0"],"as":["s","y"]}],"mark":"line","encoding":{"color":{"field":"s","type":"nominal","scale":{"domain":["k0","k1","k2"],"range":["#000000","#b3b3f2","#1a1aff"]},"legend":null}}},
{"transform":[{"filter":"datum.p=='vel'"},{"fold":["k1","k2","k0"],"as":["s","y"]}],"mark":"point","encoding":{"color":{"field":"s","type":"nominal","scale":{"domain":["k0","k1","k2"],"range":["#000000","#b3b3f2","#1a1aff"]},"legend":null},"shape":{"field":"s","type":"nominal","scale":{"domain":["k0","k1","k2"],"range":["circle","square","triangle-up"]},"legend":null}}},
{"transform":[{"filter":"datum.p=='vel' && datum.t==0"},{"fold":["k1","k2","k0"],"as":["s","y"]}],"mark":{"type":"point","filled":true,"size":0},"encoding":{
"color":{"field":"s","type":"nominal","scale":{"domain":["k0","k1","k2"],"range":["#000000","#b3b3f2","#1a1aff"]},"legend":{"orient":"none","legendX":20,"legendY":13,"title":null,"padding":0,"labelFontSize":13,"labelOffset":10,"symbolSize":100,"symbolStrokeWidth":1.2,"rowPadding":5,"labelExpr":"{'k0':'B4','k1':'CM- WT','k2':'CM- Δ4'}[datum.value]"}},
"stroke":{"field":"s","type":"nominal","scale":{"domain":["k0","k1","k2"],"range":["#000000","#b3b3f2","#1a1aff"]},"legend":{"orient":"none","legendX":20,"legendY":13,"title":null,"padding":0,"labelFontSize":13,"labelOffset":10,"symbolSize":100,"symbolStrokeWidth":1.2,"rowPadding":5,"labelExpr":"{'k0':'B4','k1':'CM- WT','k2':'CM- Δ4'}[datum.value]"}},
"shape":{"field":"s","type":"nominal","scale":{"domain":["k0","k1","k2"],"range":["M-2,0H2M-0.6,0A0.6,0.6 0 1,0 0.6,0A0.6,0.6 0 1,0 -0.6,0","M-2,0H2M-0.55,-0.55H0.55V0.55H-0.55Z","M-2,0H2M0,-0.65L0.65,0.5H-0.65Z"]},"legend":{"orient":"none","legendX":20,"legendY":13,"title":null,"padding":0,"labelFontSize":13,"labelOffset":10,"symbolSize":100,"symbolStrokeWidth":1.2,"rowPadding":5,"labelExpr":"{'k0':'B4','k1':'CM- WT','k2':'CM- Δ4'}[datum.value]"}}}}
],
"resolve":{"scale":{"color":"independent","shape":"independent","stroke":"independent"}}},
{"width":213,"height":141,"title":"B. pumilus",
"encoding":{"x":{"field":"t","type":"quantitative","scale":{"domain":[0,24],"nice":false},"axis":{"values":[0,6,12,18,24],"title":"Time (Hours)"}},"y":{"field":"y","type":"quantitative","scale":{"domain":[0,2],"nice":false},"axis":{"values":[0,0.5,1,1.5,2],"format":".1f","title":"OD₍₆₀₀ₙₘ₎"}},"color":{"field":"s","type":"nominal","scale":{"domain":["k0","k1","k2","k3","k4","k5","k6"],"range":["#000000","#b3b3f2","#1a1aff","#ff9aa2","#ff1a1a","#ffa64d","#c8742e"]},"legend":null}},
"layer":[
{"transform":[{"filter":"datum.p=='pum'"},{"fold":["k1","k3","k5","k6","k4","k2","k0"],"as":["s","y"]}],"mark":"line"},
{"transform":[{"filter":"datum.p=='pum'"},{"fold":["k1","k3","k5","k6","k4","k2","k0"],"as":["s","y"]}],"mark":"point","encoding":{"shape":{"field":"s","type":"nominal","scale":{"domain":["k0","k1","k2","k3","k4","k5","k6"],"range":["circle","square","triangle-up","triangle-down","diamond","circle","cross"]},"legend":null}}}
]},
{"width":212,"height":141,"title":"B. megaterium",
"encoding":{"x":{"field":"t","type":"quantitative","scale":{"domain":[0,24],"nice":false},"axis":{"values":[0,6,12,18,24],"title":"Time (Hours)"}},"y":{"field":"y","type":"quantitative","scale":{"domain":[0,2],"nice":false},"axis":{"values":[0,0.5,1,1.5,2],"format":".1f","title":"OD₍₆₀₀ₙₘ₎"}},"color":{"field":"s","type":"nominal","scale":{"domain":["k0","k1","k2","k3","k4","k5","k6"],"range":["#000000","#b3b3f2","#1a1aff","#ff9aa2","#ff1a1a","#ffa64d","#c8742e"]},"legend":null}},
"layer":[
{"transform":[{"filter":"datum.p=='meg'"},{"fold":["k1","k3","k5","k6","k4","k2","k0"],"as":["s","y"]}],"mark":"line"},
{"transform":[{"filter":"datum.p=='meg'"},{"fold":["k1","k3","k5","k6","k4","k2","k0"],"as":["s","y"]}],"mark":"point","encoding":{"shape":{"field":"s","type":"nominal","scale":{"domain":["k0","k1","k2","k3","k4","k5","k6"],"range":["circle","square","triangle-up","triangle-down","diamond","circle","cross"]},"legend":null}}}
]}
],"spacing":57,"bounds":"flush","resolve":{"scale":{"color":"independent","shape":"independent","stroke":"independent"}}},
{"hconcat":[
{"width":212,"height":141,"title":"B. mycoides",
"encoding":{"x":{"field":"t","type":"quantitative","scale":{"domain":[0,24],"nice":false},"axis":{"values":[0,6,12,18,24],"title":"Time (Hours)"}},"y":{"field":"y","type":"quantitative","scale":{"domain":[0,2],"nice":false},"axis":{"values":[0,0.5,1,1.5,2],"format":".1f","title":"OD₍₆₀₀ₙₘ₎"}},"color":{"field":"s","type":"nominal","scale":{"domain":["k0","k1","k2","k3","k4","k5","k6"],"range":["#000000","#b3b3f2","#1a1aff","#ff9aa2","#ff1a1a","#ffa64d","#c8742e"]},"legend":null}},
"layer":[
{"transform":[{"filter":"datum.p=='myc'"},{"fold":["k1","k3","k5","k6","k4","k2","k0"],"as":["s","y"]}],"mark":"line"},
{"transform":[{"filter":"datum.p=='myc'"},{"fold":["k1","k3","k5","k6","k4","k2","k0"],"as":["s","y"]}],"mark":"point","encoding":{"shape":{"field":"s","type":"nominal","scale":{"domain":["k0","k1","k2","k3","k4","k5","k6"],"range":["circle","square","triangle-up","triangle-down","diamond","circle","cross"]},"legend":null}}}
]},
{"width":213,"height":141,"title":"B. simplex",
"encoding":{"x":{"field":"t","type":"quantitative","scale":{"domain":[0,24],"nice":false},"axis":{"values":[0,6,12,18,24],"title":"Time (Hours)"}},"y":{"field":"y","type":"quantitative","scale":{"domain":[0,2],"nice":false},"axis":{"values":[0,0.5,1,1.5,2],"format":".1f","title":"OD₍₆₀₀ₙₘ₎"}},"color":{"field":"s","type":"nominal","scale":{"domain":["k0","k1","k2","k3","k4","k5","k6"],"range":["#000000","#b3b3f2","#1a1aff","#ff9aa2","#ff1a1a","#ffa64d","#c8742e"]},"legend":null}},
"layer":[
{"transform":[{"filter":"datum.p=='sim'"},{"fold":["k1","k3","k5","k6","k4","k2","k0"],"as":["s","y"]}],"mark":"line"},
{"transform":[{"filter":"datum.p=='sim'"},{"fold":["k1","k3","k5","k6","k4","k2","k0"],"as":["s","y"]}],"mark":"point","encoding":{"shape":{"field":"s","type":"nominal","scale":{"domain":["k0","k1","k2","k3","k4","k5","k6"],"range":["circle","square","triangle-up","triangle-down","diamond","circle","cross"]},"legend":null}}}
]},
{"width":212,"height":141,"title":"B. thuringiensis",
"encoding":{"x":{"field":"t","type":"quantitative","scale":{"domain":[0,24],"nice":false},"axis":{"values":[0,6,12,18,24],"title":"Time (Hours)"}},"y":{"field":"y","type":"quantitative","scale":{"domain":[0,2],"nice":false},"axis":{"values":[0,0.5,1,1.5,2],"format":".1f","title":"OD₍₆₀₀ₙₘ₎"}},"color":{"field":"s","type":"nominal","scale":{"domain":["k0","k1","k2","k3","k4","k5","k6"],"range":["#000000","#b3b3f2","#1a1aff","#ff9aa2","#ff1a1a","#ffa64d","#c8742e"]},"legend":null}},
"layer":[
{"transform":[{"filter":"datum.p=='thu'"},{"fold":["k1","k3","k5","k6","k4","k2","k0"],"as":["s","y"]}],"mark":"line"},
{"transform":[{"filter":"datum.p=='thu'"},{"fold":["k1","k3","k5","k6","k4","k2","k0"],"as":["s","y"]}],"mark":"point","encoding":{"shape":{"field":"s","type":"nominal","scale":{"domain":["k0","k1","k2","k3","k4","k5","k6"],"range":["circle","square","triangle-up","triangle-down","diamond","circle","cross"]},"legend":null}}}
]}
],"spacing":57,"bounds":"flush","resolve":{"scale":{"color":"independent","shape":"independent","stroke":"independent"}}}
]},
{"hconcat":[
{"width":212,"height":146,
"layer":[
{"transform":[{"filter":"datum.p=='b4'"},{"fold":["k1","k3","k5","k6","k4","k2","k0"],"as":["s","y"]}],"mark":"line","encoding":{"x":{"field":"t","type":"quantitative","scale":{"domain":[0,24],"nice":false},"axis":{"values":[0,6,12,18,24],"title":"Time (Hours)"}},"y":{"field":"y","type":"quantitative","scale":{"domain":[0,1.55],"nice":false},"axis":{"values":[0,0.5,1,1.5],"format":".1f","title":"OD₍₆₀₀ₙₘ₎"}},"color":{"field":"s","type":"nominal","scale":{"domain":["k0","k1","k2","k3","k4","k5","k6"],"range":["#000000","#b3b3f2","#1a1aff","#ff9aa2","#ff1a1a","#ffa64d","#c8742e"]},"legend":null}}},
{"transform":[{"filter":"datum.p=='b4'"},{"fold":["k1","k3","k5","k6","k4","k2","k0"],"as":["s","y"]}],"mark":"point","encoding":{"x":{"field":"t","type":"quantitative","axis":{"values":[0,6,12,18,24],"title":"Time (Hours)"}},"y":{"field":"y","type":"quantitative","axis":{"values":[0,0.5,1,1.5],"format":".1f","title":"OD₍₆₀₀ₙₘ₎"}},"color":{"field":"s","type":"nominal","scale":{"domain":["k0","k1","k2","k3","k4","k5","k6"],"range":["#000000","#b3b3f2","#1a1aff","#ff9aa2","#ff1a1a","#ffa64d","#c8742e"]},"legend":null},"shape":{"field":"s","type":"nominal","scale":{"domain":["k0","k1","k2","k3","k4","k5","k6"],"range":["circle","square","triangle-up","triangle-down","diamond","circle","cross"]},"legend":null}}},
{"transform":[{"filter":"datum.p=='b4' && datum.t==0"},{"fold":["k1","k3","k5","k6","k4","k2","k0"],"as":["s","y"]}],"mark":{"type":"point","filled":true,"size":0},"encoding":{"x":{"field":"t","type":"quantitative","axis":{"values":[0,6,12,18,24],"title":"Time (Hours)"}},"y":{"field":"y","type":"quantitative","axis":{"values":[0,0.5,1,1.5],"format":".1f","title":"OD₍₆₀₀ₙₘ₎"}},
"color":{"field":"s","type":"nominal","scale":{"domain":["k0","k1","k2","k3","k4","k5","k6"],"range":["#000000","#b3b3f2","#1a1aff","#ff9aa2","#ff1a1a","#ffa64d","#c8742e"]},"legend":{"orient":"none","legendX":105,"legendY":49,"title":null,"padding":0,"labelFontSize":13,"labelOffset":8,"symbolSize":100,"symbolStrokeWidth":1.2,"rowPadding":1,"labelExpr":"{'k0':'WT','k1':'Δsrf','k2':'Δpks','k3':'Δbac','k4':'Δpps','k5':'Δsrf Δpks','k6':'Δ4'}[datum.value]","encode":{"labels":{"update":{"fontStyle":{"signal":"datum.value=='k0'||datum.value=='k6'?'normal':'italic'"}}}}}},
"stroke":{"field":"s","type":"nominal","scale":{"domain":["k0","k1","k2","k3","k4","k5","k6"],"range":["#000000","#b3b3f2","#1a1aff","#ff9aa2","#ff1a1a","#ffa64d","#c8742e"]},"legend":{"orient":"none","legendX":105,"legendY":49,"title":null,"padding":0,"labelFontSize":13,"labelOffset":8,"symbolSize":100,"symbolStrokeWidth":1.2,"rowPadding":1,"labelExpr":"{'k0':'WT','k1':'Δsrf','k2':'Δpks','k3':'Δbac','k4':'Δpps','k5':'Δsrf Δpks','k6':'Δ4'}[datum.value]","encode":{"labels":{"update":{"fontStyle":{"signal":"datum.value=='k0'||datum.value=='k6'?'normal':'italic'"}}}}}},
"shape":{"field":"s","type":"nominal","scale":{"domain":["k0","k1","k2","k3","k4","k5","k6"],"range":["M-2,0H2M-0.6,0A0.6,0.6 0 1,0 0.6,0A0.6,0.6 0 1,0 -0.6,0","M-2,0H2M-0.55,-0.55H0.55V0.55H-0.55Z","M-2,0H2M0,-0.65L0.65,0.5H-0.65Z","M-2,0H2M0,0.65L0.65,-0.5H-0.65Z","M-2,0H2M0,-0.7L0.55,0L0,0.7L-0.55,0Z","M-2,0H2M-0.6,0A0.6,0.6 0 1,0 0.6,0A0.6,0.6 0 1,0 -0.6,0","M-2,0H2M0,-0.5V0.5M-0.45,-0.3L0.45,0.3M-0.45,0.3L0.45,-0.3"]},"legend":{"orient":"none","legendX":105,"legendY":49,"title":null,"padding":0,"labelFontSize":13,"labelOffset":8,"symbolSize":100,"symbolStrokeWidth":1.2,"rowPadding":1,"labelExpr":"{'k0':'WT','k1':'Δsrf','k2':'Δpks','k3':'Δbac','k4':'Δpps','k5':'Δsrf Δpks','k6':'Δ4'}[datum.value]","encode":{"labels":{"update":{"fontStyle":{"signal":"datum.value=='k0'||datum.value=='k6'?'normal':'italic'"}}}}}}}},
{"transform":[{"filter":"datum.p=='b4' && datum.t==0"}],"mark":{"type":"text","text":"b","fontWeight":"bold","fontSize":13,"align":"left","baseline":"middle","color":"#000000"},"encoding":{"x":{"datum":-4.2},"y":{"datum":1.656}}},
{"transform":[{"filter":"datum.p=='b4' && datum.t==0"}],"mark":{"type":"text","text":"B4","fontSize":12,"align":"left","baseline":"middle","color":"#111111"},"encoding":{"x":{"datum":1.25},"y":{"datum":1.582}}}
],
"resolve":{"scale":{"color":"independent","shape":"independent","stroke":"independent"}}},
{"width":213,"height":146,"data":{"name":"tox"},"title":{"text":"c","fontWeight":"bold","fontStyle":"normal","fontSize":14,"dx":-44,"offset":-0.5},
"encoding":{"x":{"field":"c","type":"nominal","sort":null,"scale":{"type":"point","domain":["B.subtilis","B.atropheus","B. megaterium","B.thuringiensis"],"padding":0.37,"align":0.64},"axis":{"title":null,"labelAngle":-45}},"y":{"field":"v","type":"quantitative","scale":{"domain":[0,50],"nice":false},"axis":{"values":[0,10,20,30,40,50],"title":"Toxicity (arb. units)","titleFontSize":11}}},
"layer":[
{"transform":[{"filter":"isValid(datum.lo)"}],"mark":{"type":"rule","color":"#ff5050","xOffset":-11,"strokeWidth":1},"encoding":{"y":{"field":"lo","type":"quantitative"},"y2":{"field":"hi"}}},
{"transform":[{"filter":"isValid(datum.lo)"}],"mark":{"type":"tick","color":"#ff5050","xOffset":-11,"size":8,"thickness":1,"orient":"horizontal","opacity":1},"encoding":{"y":{"field":"lo","type":"quantitative"}}},
{"transform":[{"filter":"isValid(datum.lo)"}],"mark":{"type":"tick","color":"#ff5050","xOffset":-11,"size":8,"thickness":1,"orient":"horizontal","opacity":1},"encoding":{"y":{"field":"hi","type":"quantitative"}}},
{"transform":[{"filter":"datum.g=='vs B. subtilis'"}],"mark":{"type":"point","filled":true,"size":60,"xOffset":-11,"opacity":1},"encoding":{"color":{"field":"g","type":"nominal","scale":{"domain":["vs B. subtilis","vs Δ4"],"range":["#ff3b3b","#2f2fe8"]},"legend":{"orient":"none","legendX":4,"legendY":6,"title":null,"padding":0,"labelFontSize":13,"symbolSize":64,"rowPadding":11,"labelOffset":14}},"shape":{"field":"g","type":"nominal","scale":{"domain":["vs B. subtilis","vs Δ4"],"range":["circle","square"]},"legend":{"orient":"none","legendX":4,"legendY":6,"title":null,"padding":0,"labelFontSize":13,"symbolSize":64,"rowPadding":11,"labelOffset":14}}}},
{"transform":[{"filter":"datum.g=='vs Δ4'"}],"mark":{"type":"point","filled":true,"size":55,"xOffset":11,"opacity":1},"encoding":{"color":{"field":"g","type":"nominal","scale":{"domain":["vs B. subtilis","vs Δ4"],"range":["#ff3b3b","#2f2fe8"]},"legend":{"orient":"none","legendX":4,"legendY":6,"title":null,"padding":0,"labelFontSize":13,"symbolSize":64,"rowPadding":11,"labelOffset":14}},"shape":{"field":"g","type":"nominal","scale":{"domain":["vs B. subtilis","vs Δ4"],"range":["circle","square"]},"legend":{"orient":"none","legendX":4,"legendY":6,"title":null,"padding":0,"labelFontSize":13,"symbolSize":64,"rowPadding":11,"labelOffset":14}}}},
{"transform":[{"filter":"isValid(datum.lo)"}],"mark":{"type":"text","text":"P<0.0001","angle":270,"align":"right","baseline":"middle","dy":6,"xOffset":-11,"fontSize":11.5,"color":"#000000"},"encoding":{"y":{"field":"lo","type":"quantitative"}}}
]},
{"width":211,"height":146,
"layer":[
{"transform":[{"filter":"datum.p=='msg'"},{"fold":["k1","k3","k5","k6","k4","k2","k0"],"as":["s","y"]}],"mark":"line","encoding":{"x":{"field":"t","type":"quantitative","scale":{"domain":[0,24],"nice":false},"axis":{"values":[0,6,12,18,24],"title":"Time (Hours)"}},"y":{"field":"y","type":"quantitative","scale":{"domain":[0,1.25],"nice":false},"axis":{"values":[0,0.4,0.8,1.2],"format":".1f","title":"OD₍₆₀₀ₙₘ₎"}},"color":{"field":"s","type":"nominal","scale":{"domain":["k0","k1","k2","k3","k4","k5","k6"],"range":["#000000","#b3b3f2","#1a1aff","#ff9aa2","#ff1a1a","#ffa64d","#c8742e"]},"legend":null}}},
{"transform":[{"filter":"datum.p=='msg'"},{"fold":["k1","k3","k5","k6","k4","k2","k0"],"as":["s","y"]}],"mark":"point","encoding":{"x":{"field":"t","type":"quantitative","axis":{"values":[0,6,12,18,24],"title":"Time (Hours)"}},"y":{"field":"y","type":"quantitative","axis":{"values":[0,0.4,0.8,1.2],"format":".1f","title":"OD₍₆₀₀ₙₘ₎"}},"color":{"field":"s","type":"nominal","scale":{"domain":["k0","k1","k2","k3","k4","k5","k6"],"range":["#000000","#b3b3f2","#1a1aff","#ff9aa2","#ff1a1a","#ffa64d","#c8742e"]},"legend":null},"shape":{"field":"s","type":"nominal","scale":{"domain":["k0","k1","k2","k3","k4","k5","k6"],"range":["circle","square","triangle-up","triangle-down","diamond","circle","cross"]},"legend":null}}},
{"transform":[{"filter":"datum.p=='msg' && datum.t==0"},{"fold":["k1","k3","k5","k6","k4","k2","k0"],"as":["s","y"]}],"mark":{"type":"point","filled":true,"size":0},"encoding":{"x":{"field":"t","type":"quantitative","axis":{"values":[0,6,12,18,24],"title":"Time (Hours)"}},"y":{"field":"y","type":"quantitative","axis":{"values":[0,0.4,0.8,1.2],"format":".1f","title":"OD₍₆₀₀ₙₘ₎"}},
"color":{"field":"s","type":"nominal","scale":{"domain":["k0","k1","k2","k3","k4","k5","k6"],"range":["#000000","#b3b3f2","#1a1aff","#ff9aa2","#ff1a1a","#ffa64d","#c8742e"]},"legend":{"orient":"none","legendX":110,"legendY":44,"title":null,"padding":0,"labelFontSize":13,"labelOffset":17,"symbolSize":100,"symbolStrokeWidth":1.2,"rowPadding":1,"labelExpr":"{'k0':'WT','k1':'Δsrf','k2':'Δpks','k3':'Δbac','k4':'Δpps','k5':'Δsrf Δpks','k6':'Δ4'}[datum.value]","encode":{"labels":{"update":{"fontStyle":{"signal":"datum.value=='k0'||datum.value=='k6'?'normal':'italic'"}}}}}},
"stroke":{"field":"s","type":"nominal","scale":{"domain":["k0","k1","k2","k3","k4","k5","k6"],"range":["#000000","#b3b3f2","#1a1aff","#ff9aa2","#ff1a1a","#ffa64d","#c8742e"]},"legend":{"orient":"none","legendX":110,"legendY":44,"title":null,"padding":0,"labelFontSize":13,"labelOffset":17,"symbolSize":100,"symbolStrokeWidth":1.2,"rowPadding":1,"labelExpr":"{'k0':'WT','k1':'Δsrf','k2':'Δpks','k3':'Δbac','k4':'Δpps','k5':'Δsrf Δpks','k6':'Δ4'}[datum.value]","encode":{"labels":{"update":{"fontStyle":{"signal":"datum.value=='k0'||datum.value=='k6'?'normal':'italic'"}}}}}},
"shape":{"field":"s","type":"nominal","scale":{"domain":["k0","k1","k2","k3","k4","k5","k6"],"range":["M-2,0H2M-0.6,0A0.6,0.6 0 1,0 0.6,0A0.6,0.6 0 1,0 -0.6,0","M-2,0H2M-0.55,-0.55H0.55V0.55H-0.55Z","M-2,0H2M0,-0.65L0.65,0.5H-0.65Z","M-2,0H2M0,0.65L0.65,-0.5H-0.65Z","M-2,0H2M0,-0.7L0.55,0L0,0.7L-0.55,0Z","M-2,0H2M-0.6,0A0.6,0.6 0 1,0 0.6,0A0.6,0.6 0 1,0 -0.6,0","M-2,0H2M0,-0.5V0.5M-0.45,-0.3L0.45,0.3M-0.45,0.3L0.45,-0.3"]},"legend":{"orient":"none","legendX":110,"legendY":44,"title":null,"padding":0,"labelFontSize":13,"labelOffset":17,"symbolSize":100,"symbolStrokeWidth":1.2,"rowPadding":1,"labelExpr":"{'k0':'WT','k1':'Δsrf','k2':'Δpks','k3':'Δbac','k4':'Δpps','k5':'Δsrf Δpks','k6':'Δ4'}[datum.value]","encode":{"labels":{"update":{"fontStyle":{"signal":"datum.value=='k0'||datum.value=='k6'?'normal':'italic'"}}}}}}}},
{"transform":[{"filter":"datum.p=='msg' && datum.t==0"}],"mark":{"type":"text","text":"d","fontWeight":"bold","fontSize":13,"align":"left","baseline":"middle","color":"#000000"},"encoding":{"x":{"datum":-5.6},"y":{"datum":1.336}}},
{"transform":[{"filter":"datum.p=='msg' && datum.t==0"}],"mark":{"type":"text","text":"MSgg","fontSize":12,"align":"left","baseline":"middle","color":"#111111"},"encoding":{"x":{"datum":1.59},"y":{"datum":1.276}}}
],
"resolve":{"scale":{"color":"independent","shape":"independent","stroke":"independent"}}}
],"spacing":57,"bounds":"flush","resolve":{"scale":{"color":"independent","shape":"independent","stroke":"independent"}}}
],
"config":{
"font":"Liberation Sans",
"view":{"stroke":null},
"axis":{"grid":false,"domainColor":"#555555","tickColor":"#555555","labelColor":"#111111","titleColor":"#111111","labelFontSize":11,"titleFontSize":12,"titleFontWeight":"normal","tickSize":4,"labelPadding":2,"titlePadding":4,"labelOverlap":false},
"title":{"anchor":"start","frame":"group","fontSize":13,"fontStyle":"italic","fontWeight":"normal","offset":-5,"dx":13,"color":"#111111"},
"line":{"strokeWidth":1},
"point":{"filled":true,"size":16,"opacity":1},
"legend":{"labelColor":"#111111"}
}
}
